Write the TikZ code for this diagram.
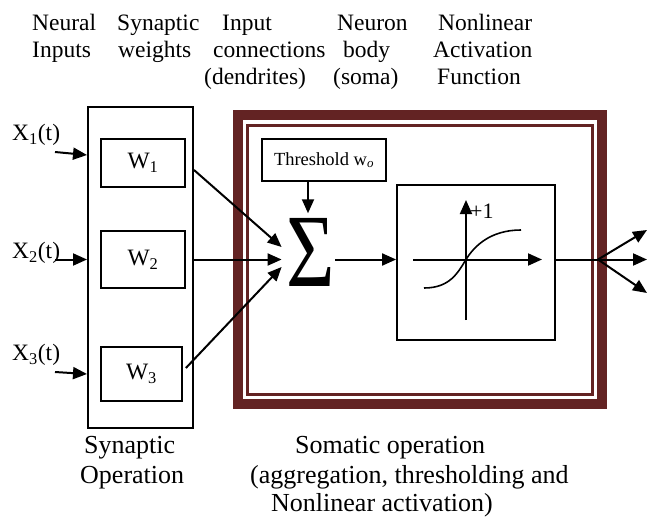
\documentclass[tikz,border=0pt]{standalone}
\usepackage{fontspec}
\usepackage{graphicx}
\setmainfont{Liberation Serif}
\usetikzlibrary{arrows.meta,calc}
\definecolor{somared}{RGB}{99,35,35}
\begin{document}
\begin{tikzpicture}[x=1pt,y=-1pt,
  arr/.style={line width=2pt,-{Triangle[length=14pt,width=12pt]}},
  wire/.style={line width=2pt},
  box/.style={draw,line width=1.8pt,inner sep=0pt},
  toplbl/.style={anchor=base west,inner sep=0pt,font=\fontsize{23.5}{23.5}\selectfont},
  botlbl/.style={anchor=base west,inner sep=0pt,font=\fontsize{26}{26}\selectfont},
  sym/.style={inner sep=0pt,font=\fontsize{23.5}{23.5}\selectfont}]
\useasboundingbox (0,0) rectangle (647,516);

% column headings
\node[toplbl] (hneural) at (32,31) {Neural};
\node[toplbl] (hinputs) at (32,58) {Inputs};
\node[toplbl] (hsyn) at (117,31) {Synaptic};
\node[toplbl] (hweights) at (118,58) {weights};
\node[toplbl] (hinput) at (222,31) {Input};
\node[toplbl] (hconn) at (213,58) {connections};
\node[toplbl] (hdend) at (204,85) {(dendrites)};
\node[toplbl] (hneuron) at (337,31) {Neuron};
\node[toplbl] (hbody) at (343,58) {body};
\node[toplbl] (hsoma) at (333,85) {(soma)};
\node[toplbl] (hnonlin) at (438,31) {Nonlinear};
\node[toplbl] (hact) at (433,58) {Activation};
\node[toplbl] (hfunc) at (437,85) {Function};

% soma frame
\draw[somared,line width=10pt] (238,115) rectangle (602,403.5);
\draw[somared,line width=3pt] (247.5,125) rectangle (592.5,394.5);

% synaptic block
\node[box,line width=2pt,minimum width=105,minimum height=321] (syn) at (140.5,267.5) {};
\node[box,minimum width=84,minimum height=48,font=\fontsize{23.5}{23.5}\selectfont] (w1) at (143,163) {W\textsubscript{1}};
\node[box,minimum width=84,minimum height=57,font=\fontsize{23.5}{23.5}\selectfont] (w2) at (143,259.5) {W\textsubscript{2}};
\node[box,minimum width=81,minimum height=54,font=\fontsize{23.5}{23.5}\selectfont] (w3) at (141.5,374) {W\textsubscript{3}};

% inputs
\node[sym,anchor=west] (x1) at (12,135) {X\textsubscript{1}(t)};
\node[sym,anchor=west] (x2) at (12,253) {X\textsubscript{2}(t)};
\node[sym,anchor=west] (x3) at (12,355) {X\textsubscript{3}(t)};
\coordinate (x1s) at (55,152);
\coordinate (x2s) at (55,259.5);
\coordinate (x3s) at (55,372);
\draw[arr] (x1s) -- ($(syn.north west)+(0,49)$);
\draw[arr] (x2s) -- (syn.west |- w2);
\draw[arr] (x3s) -- (syn.west |- w3);

% summation
\node[inner sep=0pt,font=\fontsize{104}{104}\selectfont] (sum) at (311,252.5) {\scalebox{0.8}[1]{Σ}};
\node[box,minimum width=124,minimum height=42,font=\fontsize{18.5}{18.5}\selectfont] (thr) at (324,160) {Threshold w\textsubscript{\itshape o}};
\draw[arr] ($(thr.south)+(-16,0)$) -- ($(sum.north)+(-3,-5)$);
\draw[arr] ($(syn.east |- w1)+(0,7)$) -- ($(sum.west)+(-5,-5.5)$);
\draw[arr] (syn.east |- w2) -- ($(sum.west |- w2)+(-5,0)$);
\draw[arr] ($(w3.east)+(3,-6)$) -- ($(sum.west)+(-5,14.5)$);

% activation function
\node[box,minimum width=158,minimum height=155] (act) at (476,262.5) {};
\draw[arr] (sum.east |- w2) -- (act.west |- w2);
\draw[arr] (413,259.5) -- (542,259.5);
\draw[arr] (466,320) -- (466,200);
\node[anchor=west,inner sep=0pt,font=\fontsize{22}{22}\selectfont] (plusone) at (470,211) {+1};
\draw[line width=1.6pt] (424,288) .. controls (450,288) and (458,272.5) .. (466,259.5)
  .. controls (474,246.5) and (490,230) .. (521,230);

% outputs
\coordinate (split) at (598,259.5);
\coordinate (o1) at (647,230);
\coordinate (o2) at (647,259.5);
\coordinate (o3) at (647,293);
\draw[wire] (act.east |- w2) -- (split);
\draw[arr] (split) -- (o1);
\draw[arr] (split) -- (o2);
\draw[arr] (split) -- (o3);

% captions
\node[botlbl] (csyn) at (84,453) {Synaptic};
\node[botlbl] (cop) at (80,483) {Operation};
\node[botlbl] (csom1) at (295,453) {Somatic operation};
\node[botlbl] (csom2) at (250,483) {(aggregation, thresholding and};
\node[botlbl] (csom3) at (271,511) {Nonlinear activation)};
\end{tikzpicture}
\end{document}
